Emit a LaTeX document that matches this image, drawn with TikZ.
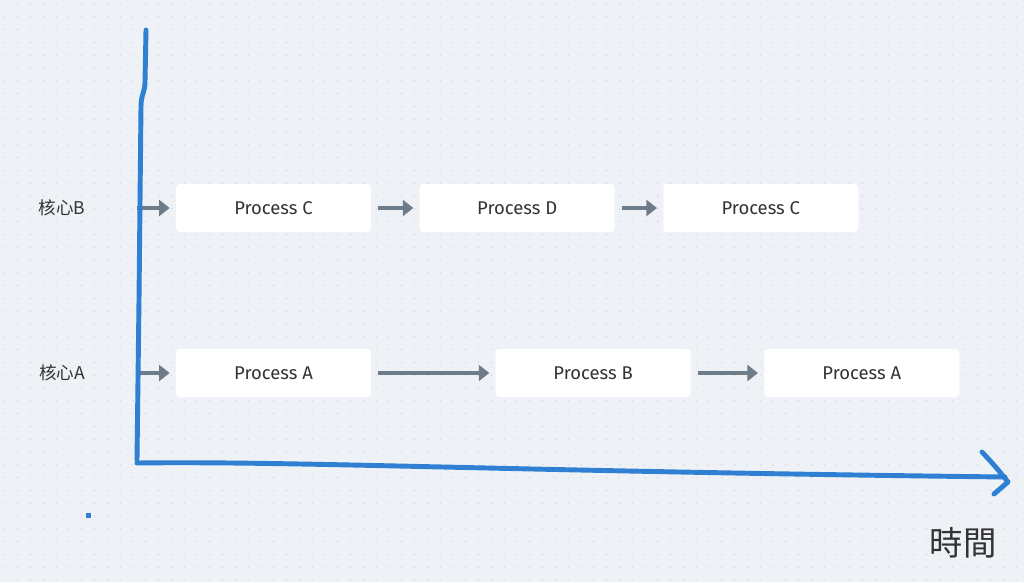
\documentclass[tikz,border=0pt]{standalone}
\usepackage{fontspec}
\setmainfont{Fira Sans}
\newfontfamily\cjkfont{Noto Sans CJK TC}
\usetikzlibrary{positioning, arrows.meta}
\definecolor{bgcol}{HTML}{EEF2F6}
\definecolor{dotcol}{HTML}{CBD2DA}
\definecolor{axiscol}{HTML}{2F80D3}
\definecolor{arrowcol}{HTML}{6E7B88}
\definecolor{textcol}{HTML}{333333}
\tikzstyle{process} = [rectangle, rounded corners=2pt, minimum width=3.9cm, minimum height=0.96cm, text centered, draw=none, fill=white, text=textcol, font=\fontsize{10.5}{12}\selectfont]
\tikzstyle{core} = [text=textcol, font=\cjkfont\fontsize{10}{12}\selectfont]
\tikzstyle{timelabel} = [text=textcol, font=\cjkfont\fontsize{19}{22}\selectfont]
\tikzstyle{arrow} = [line width=2.1pt, arrowcol, -{Triangle[length=6pt,width=9pt]}]
\tikzstyle{axis} = [line width=2.8pt, axiscol, line cap=round, line join=round]

\begin{document}
\begin{tikzpicture}[x=0.02cm, y=-0.02cm]
        % background and dot grid
        \fill[bgcol] (0,0) rectangle (1024,582);
        \useasboundingbox (0,0) rectangle (1024,582);
        \foreach \i in {0,...,79}
            \foreach \j in {0,...,45}
                \fill[dotcol] (\i*12.8+5, \j*12.8+4) circle (0.4pt);

        % cores
        \node (coreB) [core] at (62,208) {核心B};
        \node (coreA) [core] at (62,373) {核心A};
        \coordinate (axB) at (137,208);
        \coordinate (axA) at (137,373);

        % core B
        \node (procC1) [process] at (273.5,208) {Process C};
        \node (procD) [process, right=0.96cm of procC1] {Process D};
        \node (procC2) [process, right=0.96cm of procD] {Process C};

        % core A
        \node (procA1) [process] at (273.5,373) {Process A};
        \node (procB) [process, right=2.48cm of procA1] {Process B};
        \node (procA2) [process, right=1.46cm of procB] {Process A};

        \draw [arrow, shorten >=0.12cm] (axB) -- (procC1.west);
        \draw [arrow, shorten <=0.14cm, shorten >=0.12cm] (procC1) -- (procD);
        \draw [arrow, shorten <=0.14cm, shorten >=0.12cm] (procD) -- (procC2);
        \draw [arrow, shorten >=0.12cm] (axA) -- (procA1.west);
        \draw [arrow, shorten <=0.14cm, shorten >=0.12cm] (procA1) -- (procB);
        \draw [arrow, shorten <=0.14cm, shorten >=0.12cm] (procB) -- (procA2);

        % hand drawn axes
        \draw [axis] (146,30) -- (145,82) .. controls (145,92) and (141,95) .. (141,106) -- (139,300) -- (137,460);
        \draw [axis] (137,463) .. controls (300,461) and (500,471) .. (1005,477);
        \draw [axis] (982,452) .. controls (995,466) .. (1008,482) -- (994,494);
        \fill[axiscol] (86,513) rectangle (90.5,517.5);
        \node (time) [timelabel] at (963,543) {時間};
    \end{tikzpicture}
\end{document}
